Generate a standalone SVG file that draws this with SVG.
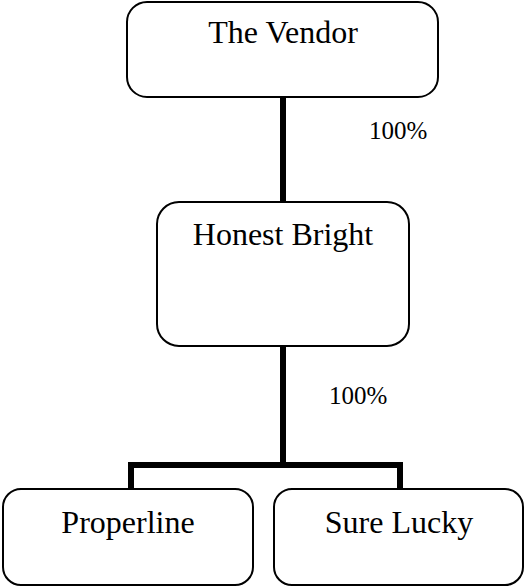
<svg xmlns="http://www.w3.org/2000/svg" width="526" height="586" viewBox="0 0 526 586">
<style>
.box{fill:#fff;stroke:#000;stroke-width:2}
.t{font-family:"Liberation Serif","Times New Roman",serif;font-size:32px;fill:#000;text-anchor:middle}
.lbl{font-family:"Liberation Serif","Times New Roman",serif;font-size:25px;fill:#000}
.c{fill:none;stroke:#000;stroke-width:6;stroke-linecap:butt;stroke-linejoin:miter}
</style>
<rect width="526" height="586" fill="#fff"/>
<g id="connectors">
<line class="c" x1="283" y1="97" x2="283" y2="202"/>
<polyline class="c" points="283,346 283,465"/>
<polyline class="c" points="131,489 131,465 400,465 400,489"/>
<text class="lbl" x="369" y="139">100%</text>
<text class="lbl" x="329" y="404">100%</text>
</g>
<g id="vendor">
<rect class="box" x="127" y="2" width="311" height="95" rx="20"/>
<text class="t" x="283" y="43">The Vendor</text>
</g>
<g id="honest-bright">
<rect class="box" x="157" y="202" width="252" height="144" rx="22"/>
<text class="t" x="283" y="245">Honest Bright</text>
</g>
<g id="properline">
<rect class="box" x="3" y="489" width="250" height="96" rx="18"/>
<text class="t" x="128" y="533">Properline</text>
</g>
<g id="sure-lucky">
<rect class="box" x="274" y="489" width="249" height="96" rx="18"/>
<text class="t" x="399" y="533">Sure Lucky</text>
</g>
</svg>
